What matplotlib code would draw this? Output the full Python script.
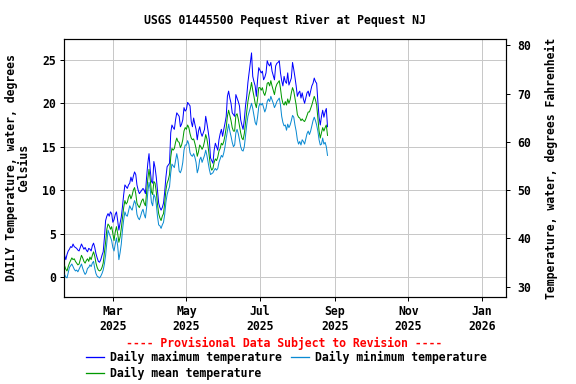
import numpy as np
import pandas as pd
import matplotlib
matplotlib.use("Agg")
import matplotlib.pyplot as plt
import matplotlib.dates as mdates

# daily values, starting 2025-01-20 (deg C)
start_date = "2025-01-20"

t_max = [2.5, 2.0, 2.6, 3.0, 3.2, 3.5, 3.4, 3.8, 3.5, 3.4, 3.3, 3.1, 3.0, 3.4, 3.8, 3.5, 3.2, 3.4, 3.1, 2.9,
         3.3, 3.2, 3.0, 3.6, 3.9, 3.4, 2.7, 2.2, 1.8, 1.7, 2.0, 2.5, 2.9, 4.5, 6.5, 7.0, 7.3, 7.0, 7.5, 7.3,
         6.3, 6.6, 7.2, 7.5, 6.5, 5.4, 6.2, 6.9, 8.1, 9.5, 10.6, 10.4, 10.2, 10.6, 10.8, 11.5, 11.0, 11.6, 12.1, 11.8,
         10.6, 10.0, 9.6, 9.8, 10.0, 10.2, 10.0, 9.6, 11.5, 13.1, 14.2, 12.3, 11.0, 10.8, 13.3, 12.6, 11.5, 10.0, 8.5, 8.0,
         7.7, 8.0, 8.5, 9.8, 11.5, 12.7, 12.9, 13.1, 16.6, 17.5, 17.2, 17.0, 18.1, 18.9, 18.7, 18.5, 17.3, 17.6, 18.1, 19.5,
         19.1, 19.3, 20.1, 19.9, 19.7, 17.9, 17.3, 18.3, 17.6, 17.0, 15.8, 16.8, 17.3, 16.6, 16.2, 16.6, 17.0, 18.5, 17.7, 16.8,
         15.8, 13.7, 13.4, 13.1, 14.6, 15.4, 15.0, 14.6, 15.8, 16.5, 17.0, 16.2, 17.0, 17.7, 18.5, 20.8, 21.4, 20.6, 20.0, 18.9,
         18.7, 18.5, 21.0, 20.6, 20.2, 19.7, 18.1, 17.5, 17.0, 18.1, 19.7, 20.8, 22.4, 23.5, 24.7, 25.8, 23.1, 22.5, 22.0, 20.8,
         22.7, 24.1, 23.8, 23.5, 23.7, 22.7, 23.0, 23.5, 24.9, 24.5, 24.3, 24.7, 23.7, 23.2, 22.7, 24.3, 24.6, 24.7, 24.9, 23.5,
         22.6, 22.0, 23.1, 22.5, 22.3, 23.5, 22.1, 22.5, 22.9, 24.7, 23.9, 23.0, 22.0, 20.8, 21.2, 21.4, 20.6, 21.2, 20.5, 20.0,
         20.6, 21.2, 21.4, 20.8, 21.4, 22.0, 22.3, 22.9, 22.5, 22.3, 20.2, 18.4, 17.5, 18.5, 19.2, 18.4, 19.0, 19.4, 17.3]

t_mean = [1.3, 0.9, 0.7, 1.2, 1.6, 1.9, 2.2, 2.0, 2.1, 1.8, 1.6, 1.4, 1.5, 2.0, 2.5, 2.2, 1.8, 1.6, 1.9, 2.1,
          1.8, 2.3, 2.0, 2.5, 2.9, 2.4, 1.6, 1.1, 0.8, 0.7, 0.8, 1.1, 1.6, 2.8, 4.0, 5.5, 6.1, 5.9, 5.5, 5.8,
          5.0, 4.2, 5.2, 5.8, 5.0, 4.0, 4.6, 5.6, 6.8, 8.0, 8.8, 8.4, 8.6, 9.2, 9.5, 9.0, 9.4, 10.0, 10.3, 9.6,
          8.5, 8.2, 8.0, 8.4, 8.8, 9.0, 8.5, 8.2, 9.8, 11.3, 12.4, 11.2, 9.8, 9.5, 11.0, 10.8, 9.8, 8.4, 7.3, 6.8,
          6.5, 7.0, 7.3, 8.5, 10.0, 10.8, 11.2, 11.8, 13.8, 14.8, 14.6, 14.8, 15.5, 16.0, 15.6, 15.5, 14.9, 15.2, 15.8, 16.8,
          17.2, 17.0, 17.5, 17.2, 16.5, 16.0, 15.8, 15.9, 15.4, 14.8, 13.9, 14.4, 15.2, 15.0, 14.7, 15.0, 15.6, 16.4, 15.9, 15.0,
          13.9, 12.7, 12.3, 12.5, 13.2, 13.6, 13.4, 13.8, 14.5, 14.8, 15.4, 15.2, 15.6, 16.3, 17.2, 18.5, 19.2, 18.6, 18.0, 17.2,
          16.8, 16.8, 18.6, 18.8, 18.2, 17.4, 16.6, 16.0, 15.8, 16.5, 17.8, 19.0, 20.2, 21.0, 21.6, 22.4, 21.5, 20.8, 20.0, 19.5,
          20.5, 21.8, 21.8, 21.5, 21.8, 21.2, 20.9, 21.4, 22.3, 22.4, 22.0, 22.6, 22.0, 21.5, 21.0, 21.8, 22.2, 22.4, 22.6, 21.7,
          20.6, 20.0, 19.8, 20.2, 19.8, 20.5, 20.0, 20.4, 21.2, 21.8, 21.4, 20.6, 19.8, 18.7, 18.4, 18.3, 18.0, 18.2, 18.0, 17.9,
          18.2, 18.6, 19.0, 19.0, 19.4, 19.8, 20.3, 20.8, 20.4, 19.8, 18.3, 16.8, 16.0, 16.6, 17.2, 16.8, 17.2, 17.5, 16.3]

t_min = [0.3, 0.0, -0.1, 0.5, 1.1, 1.3, 1.5, 1.2, 0.9, 0.7, 0.8, 0.6, 0.9, 1.2, 1.5, 1.0, 0.6, 0.3, 0.5, 1.0,
         1.1, 1.4, 1.2, 1.6, 1.8, 1.0, 0.4, 0.1, 0.0, -0.1, 0.1, 0.4, 0.8, 1.5, 2.5, 4.0, 5.4, 5.0, 4.6, 4.2,
         3.4, 3.0, 3.8, 4.5, 3.6, 2.0, 2.8, 3.8, 5.4, 6.6, 7.5, 7.1, 7.0, 7.6, 8.2, 7.9, 7.7, 8.3, 8.8, 8.4,
         7.2, 6.8, 6.6, 7.0, 7.5, 7.8, 7.2, 6.8, 8.0, 9.8, 10.9, 10.1, 8.6, 8.2, 9.5, 9.2, 8.4, 7.0, 6.0, 5.9,
         5.6, 6.0, 6.3, 7.2, 8.6, 9.5, 10.0, 10.4, 12.0, 13.0, 12.8, 12.6, 13.4, 14.2, 13.5, 12.2, 12.0, 12.4, 13.2, 14.6,
         15.2, 15.2, 15.7, 15.3, 14.3, 14.0, 13.9, 14.2, 13.8, 13.2, 12.0, 12.5, 13.5, 13.8, 13.2, 13.6, 14.0, 14.6, 14.0, 13.2,
         12.4, 11.8, 11.9, 12.0, 12.3, 12.5, 12.3, 12.5, 13.2, 13.6, 14.0, 13.8, 14.3, 15.0, 16.0, 16.8, 17.6, 16.8, 16.2, 15.5,
         15.0, 15.2, 16.6, 17.0, 16.5, 15.8, 15.0, 14.6, 14.5, 15.0, 16.3, 17.5, 18.5, 19.0, 19.5, 20.0, 19.4, 18.6, 17.8, 17.5,
         18.4, 19.6, 20.0, 19.8, 20.0, 19.5, 19.0, 19.4, 20.2, 20.5, 20.2, 20.8, 20.4, 20.0, 19.5, 19.8, 20.2, 20.4, 20.6, 19.8,
         18.5, 17.8, 17.4, 17.5, 16.9, 17.6, 17.2, 17.5, 18.0, 18.6, 18.4, 17.5, 16.8, 15.8, 15.3, 15.6, 15.2, 15.8, 15.6, 15.3,
         15.9, 16.5, 16.8, 16.4, 16.8, 17.4, 18.0, 18.4, 18.0, 17.5, 16.8, 15.8, 15.2, 15.3, 16.0, 15.3, 15.5, 15.0, 14.0]

dates = pd.date_range(start_date, periods=len(t_max), freq="D")

FONT = "DejaVu Sans Mono"
FS = 11.5

fig = plt.figure(figsize=(8, 384 / 72), dpi=72)
ax = fig.add_axes([64 / 576, 1 - 297 / 384, 442 / 576, 258 / 384])

ax.plot(dates, t_max, color="#0000ff", lw=1.0, label="Daily maximum temperature", zorder=3)
ax.plot(dates, t_min, color="#0a8ad2", lw=1.0, label="Daily minimum temperature", zorder=3)
ax.plot(dates, t_mean, color="#009900", lw=1.0, label="Daily mean temperature", zorder=4)

ax.set_xlim(pd.Timestamp("2025-01-19 12:00"), pd.Timestamp("2026-01-21"))
ax.set_ylim(-2.3, 27.4)
ax.set_yticks([0, 5, 10, 15, 20, 25])
ax.xaxis.set_major_locator(mdates.MonthLocator(bymonth=[1, 3, 5, 7, 9, 11]))
ax.xaxis.set_major_formatter(mdates.DateFormatter("%b\n%Y"))
ax.grid(True, color="#c8c8c8", lw=1)
ax.set_axisbelow(True)
ax.tick_params(direction="out", length=4, width=1, labelsize=FS, pad=4)
for lab in ax.get_xticklabels() + ax.get_yticklabels():
    lab.set_fontfamily(FONT)
    lab.set_fontweight("bold")
for s in ax.spines.values():
    s.set_linewidth(1.2)
ax.set_ylabel("DAILY Temperature, water, degrees\nCelsius", fontfamily=FONT,
              fontweight="bold", fontsize=FS, labelpad=12, linespacing=0.95)

# Fahrenheit axis on the right
ax2 = ax.twinx()
lo, hi = ax.get_ylim()
ax2.set_ylim(lo * 9 / 5 + 32, hi * 9 / 5 + 32)
ax2.set_yticks([30, 40, 50, 60, 70, 80])
ax2.tick_params(direction="out", length=4, width=1, labelsize=FS, pad=7)
for lab in ax2.get_yticklabels():
    lab.set_fontfamily(FONT)
    lab.set_fontweight("bold")
ax2.set_ylabel("Temperature, water, degrees Fahrenheit", fontfamily=FONT,
               fontweight="bold", fontsize=FS, labelpad=14)

fig.text(0.495, 1 - 20 / 384, "USGS 01445500 Pequest River at Pequest NJ", ha="center", va="center",
         fontfamily=FONT, fontweight="bold", fontsize=FS)
fig.text(0.493, 1 - 343 / 384, "---- Provisional Data Subject to Revision ----", ha="center", va="center",
         color="red", fontfamily=FONT, fontweight="bold", fontsize=FS)

h, l = ax.get_legend_handles_labels()
order = [0, 2, 1]
leg = fig.legend([h[i] for i in order], [l[i] for i in order], ncol=2, frameon=False,
                 loc="upper left", bbox_to_anchor=(86 / 576, 1 - 351 / 384),
                 prop={"family": FONT, "weight": "bold", "size": FS},
                 handlelength=1.6, handletextpad=0.5, columnspacing=0.75,
                 labelspacing=0.22, borderpad=0, borderaxespad=0)
for ln in leg.get_lines():
    ln.set_linewidth(1.3)

fig.savefig("out.png", dpi=72)
